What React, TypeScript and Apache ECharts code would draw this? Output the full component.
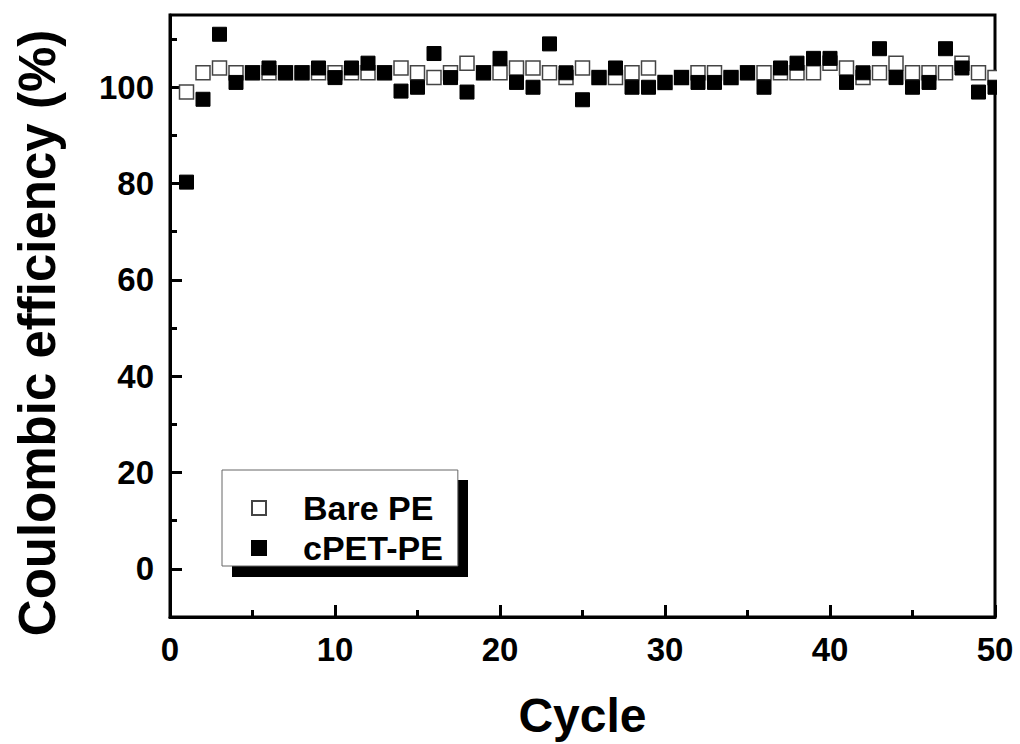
import React, { useEffect, useRef } from "react";
import * as echarts from "echarts";

const cycles = Array.from({ length: 50 }, (_, i) => i + 1);
const bareValues = [
  99, 103, 104, 103, 103, 103, 103, 103, 103, 103,
  103, 103, 103, 104, 103, 102, 103, 105, 103, 103,
  104, 104, 103, 102, 104, 102, 102, 103, 104, 101,
  102, 103, 103, 102, 103, 103, 103, 103, 103, 105,
  104, 102, 103, 105, 103, 103, 103, 105, 103, 102,
];
const cpetValues = [
  80.3, 97.5, 111, 101, 103, 104, 103, 103, 104, 102,
  104, 105, 103, 99.2, 100, 107, 102, 99, 103, 106,
  101, 100, 109, 103, 97.4, 102, 104, 100, 100, 101,
  102, 101, 101, 102, 103, 100, 104, 105, 106, 106,
  101, 103, 108, 102, 100, 101, 108, 104, 99, 100,
];
const yMajorTicks = [0, 20, 40, 60, 80, 100];
const yMinorTicks = [10, 30, 50, 70, 90, 110];
const seriesNames = ["Bare PE", "cPET-PE"];

const FONT = "'Liberation Sans', Arial, Helvetica, sans-serif";

export default function App() {
  const ref = useRef<HTMLDivElement>(null);
  useEffect(() => {
    if (!ref.current) return;
    const chart = echarts.init(ref.current, null, { renderer: "svg" });
    chart.setOption({
      animation: false,
      backgroundColor: "#ffffff",
      grid: {
        left: 170,
        right: 25,
        top: 15,
        bottom: 127,
        show: true,
        borderColor: "#000",
        borderWidth: 3,
        backgroundColor: "transparent",
      },
      xAxis: {
        type: "value",
        min: 0,
        max: 50,
        interval: 10,
        name: "Cycle",
        nameLocation: "middle",
        nameGap: 74,
        nameTextStyle: { fontFamily: FONT, fontWeight: "bold", fontSize: 48, color: "#000" },
        axisLine: { show: true, onZero: false, lineStyle: { color: "#000", width: 3 } },
        axisTick: { show: true, inside: true, length: 12, lineStyle: { color: "#000", width: 3 } },
        minorTick: { show: true, splitNumber: 2, length: 7, lineStyle: { color: "#000", width: 3 } },
        splitLine: { show: false },
        axisLabel: { fontFamily: FONT, fontWeight: "bold", fontSize: 33, color: "#000", margin: 16 },
      },
      yAxis: [
        {
          type: "value",
          min: -10,
          max: 115,
          name: "Coulombic efficiency (%)",
          nameLocation: "middle",
          nameRotate: 90,
          nameGap: 107,
          nameTextStyle: {
            fontFamily: FONT,
            fontWeight: "bold",
            fontSize: 51,
            color: "#000",
            padding: [0, 34, 0, 0],
          },
          axisLine: { show: true, onZero: false, lineStyle: { color: "#000", width: 3 } },
          axisTick: {
            show: true,
            inside: true,
            length: 12,
            customValues: yMajorTicks,
            lineStyle: { color: "#000", width: 3 },
          },
          splitLine: { show: false },
          axisLabel: {
            customValues: yMajorTicks,
            fontFamily: FONT,
            fontWeight: "bold",
            fontSize: 33,
            color: "#000",
            margin: 16,
          },
        },
        {
          type: "value",
          min: -10,
          max: 115,
          position: "left",
          axisLine: { show: false },
          axisTick: {
            show: true,
            inside: true,
            length: 7,
            customValues: yMinorTicks,
            lineStyle: { color: "#000", width: 3 },
          },
          axisLabel: { show: false },
          splitLine: { show: false },
        },
      ],
      legend: {
        orient: "vertical",
        left: 222,
        top: 470,
        z: 6,
        data: seriesNames,
        itemWidth: 14,
        itemHeight: 14,
        itemGap: 6,
        padding: [21, 15, 1, 29],
        backgroundColor: "#fff",
        borderColor: "#666",
        borderWidth: 1,
        textStyle: {
          fontFamily: FONT,
          fontWeight: "bold",
          fontSize: 34,
          lineHeight: 34,
          color: "#000",
          padding: [0, 0, 0, 32],
        },
      },
      graphic: [
        {
          type: "rect",
          z: 5,
          shape: { x: 232, y: 480, width: 236, height: 97 },
          style: { fill: "#000" },
        },
        {
          type: "rect",
          z: 20,
          shape: { x: 997, y: 0, width: 30, height: 620 },
          style: { fill: "#fff" },
        },
      ],
      series: [
        {
          name: seriesNames[0],
          type: "scatter",
          symbol: "rect",
          symbolSize: 14,
          data: cycles.map((c, i) => [c, bareValues[i]]),
          itemStyle: { color: "#fff", borderColor: "#444", borderWidth: 1.5, opacity: 1 },
          z: 2,
        },
        {
          name: seriesNames[1],
          type: "scatter",
          symbol: "rect",
          symbolSize: 14,
          data: cycles.map((c, i) => [c, cpetValues[i]]),
          itemStyle: { color: "#000", borderColor: "#000", borderWidth: 1, opacity: 1 },
          z: 3,
        },
      ],
    });
    return () => chart.dispose();
  }, []);
  return (
    <div
      ref={ref}
      style={{ position: "fixed", left: 0, top: 0, width: 1020, height: 744 }}
    />
  );
}
